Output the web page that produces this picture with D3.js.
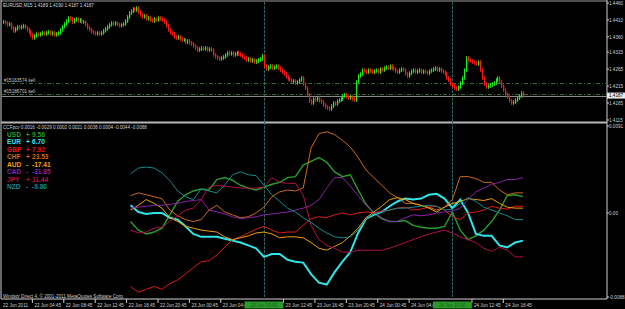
<!DOCTYPE html>
<html>
<head>
<meta charset="utf-8">
<script src="https://cdn.jsdelivr.net/npm/d3@7"></script>
<style>
  body { margin: 0; background: #000; }
  svg { display: block; }
  text { font-family: "Liberation Sans", Arial, sans-serif; }
</style>
</head>
<body>
<svg id="chart" width="625" height="309"></svg>
<script>
// EURUSD M15, first bar 22 Jun 2011 00:45, closes x 1e4
const firstBar = new Date(2011, 5, 22, 0, 45);
const closes = [
  14404,14401,14396,14398,14387,14378,14384,14390,14387,14390,
  14393,14387,14381,14375,14366,14357,14363,14369,14366,14369,
  14372,14369,14372,14375,14369,14372,14366,14369,14372,14381,
  14390,14398,14407,14416,14413,14404,14410,14413,14407,14410,14404,
  14404,14396,14387,14381,14375,14372,14369,14372,14369,14372,
  14378,14384,14390,14396,14401,14398,14401,14396,14393,14396,
  14398,14407,14419,14431,14436,14442,14439,14445,14433,14425,
  14419,14422,14413,14416,14410,14407,14413,14410,14416,14413,
  14410,14404,14393,14381,14372,14369,14360,14357,14360,14354,14351,
  14351,14345,14348,14342,14339,14333,14327,14321,14324,14327,
  14324,14327,14321,14324,14321,14307,14301,14298,14295,14298,
  14301,14307,14313,14310,14313,14307,14310,14313,14310,14307,
  14301,14298,14292,14295,14289,14292,14286,14289,14292,14295,
  14304,14274,14265,14271,14274,14268,14271,14274,14268,14262,14256,
  14251,14242,14236,14233,14227,14230,14224,14227,14233,14239,
  14221,14209,14189,14171,14165,14177,14174,14180,14171,14168,
  14159,14153,14150,14147,14156,14165,14162,14171,14174,14177,
  14186,14189,14183,14180,14183,14177,14174,14227,14245,14251,
  14262,14259,14256,14262,14259,14256,14259,14262,14256,14265,14262,
  14268,14271,14268,14274,14268,14265,14259,14256,14262,14265,
  14262,14251,14245,14253,14259,14262,14256,14259,14262,14256,
  14259,14256,14253,14259,14262,14265,14268,14262,14265,14259,
  14256,14251,14239,14233,14221,14215,14209,14206,14212,14224,
  14239,14262,14298,14292,14289,14286,14283,14280,14286,14262,14239,
  14221,14212,14215,14218,14221,14224,14233,14239,14227,14215,
  14203,14191,14183,14171,14165,14168,14174,14180,14186,14194,
  14187
];
const bid = 1.4187;
const quoteText = "EURUSD,M15  1.4189  1.4190  1.4187  1.4187";
const orderIds = ["#15163574 sell", "#15186701 sell"];
const orderPrices = [1.4224, 1.4193];
const priceTicks = ["1.4460", "1.4410", "1.4360", "1.4315", "1.4265", "1.4215", "1.4165", "1.4115"];
const separators = ["2011-06-23 10:00", "2011-06-24 10:00"];
const timeLabels = ["2011-06-22 04:45", "2011-06-22 08:45", "2011-06-22 12:45", "2011-06-22 16:45",
  "2011-06-22 20:45", "2011-06-23 00:45", "2011-06-23 04:45", "2011-06-23 12:45", "2011-06-23 16:45",
  "2011-06-23 20:45", "2011-06-24 00:45", "2011-06-24 04:45", "2011-06-24 12:45", "2011-06-24 16:45"];

// CCFpcv indicator, x 1e-4, one point every 4 bars from bar 65
const indStart = 65, indStep = 4;
const currencies = ["USD", "EUR", "GBP", "CHF", "AUD", "CAD", "JPY", "NZD"];
const strength = [9.58, 6.70, 7.92, 23.53, -17.41, -31.85, 11.44, -9.86];
const headerVals = ["0.0016", "-0.0029", "0.0002", "0.0021", "0.0036", "0.0004", "-0.0044", "-0.0088"];
const colors = ["#2a9e2a", "#30e4ea", "#e01818", "#cc6a1c", "#f0a000", "#8a22a8", "#b0104a", "#178a8a"];
const usd = [-9,-18,-22,-20,-16,-2,12,19,23,25,24,35,37,34,29,26,24,27,30,32,37,38,50,54,58,53,43,38,40,24,9,0,-6,-9,-9,-8,-13,-15,-16,-16,-14,1,-18,-28,-24,-18,-9,3,18,19,17];
const eur = [8,1,-1,0,0,-5,-7,-14,-22,-25,-25,-25,-27,-29,-31,-34,-37,-46,-43,-43,-49,-51,-52,-64,-73,-75,-62,-51,-41,-21,-6,-2,1,7,12,15,14,15,19,20,15,5,14,0,-22,-24,-24,-34,-36,-31,-29];
const gbp = [-77,-83,-80,-77,-80,-74,-70,-64,-57,-51,-50,-44,-36,-28,-25,-21,-17,-14,-18,-21,-20,-20,-13,-6,-4,-5,-2,0,-2,0,1,0,2,3,5,6,3,4,6,7,3,-4,-7,0,1,3,7,5,4,7,7];
const chf = [18,21,19,17,15,3,-3,-7,-9,-7,3,8,1,-2,-5,-4,0,6,17,22,24,23,26,68,83,85,82,76,69,58,45,37,29,21,16,10,10,8,6,3,6,14,38,38,36,32,32,24,19,21,21];
const aud = [3,8,14,10,5,-5,-9,-14,-16,-18,-19,-20,-25,-28,-26,-24,-21,-20,-22,-26,-25,-25,-26,-31,-37,-39,-35,-31,-24,-16,-5,1,7,14,16,14,10,8,5,1,6,10,12,15,14,13,15,10,6,5,5];
const cad = [5,6,7,8,8,9,10,12,13,14,3,1,-1,-4,-6,-5,-4,-2,-1,0,1,3,5,8,14,26,37,37,28,18,8,1,-5,-9,-9,-5,-2,-3,-2,0,1,2,5,14,22,26,30,32,35,35,37];
const jpy = [-18,-21,-20,-16,-15,-9,-3,3,5,14,27,29,28,27,26,26,26,27,37,32,31,31,19,-13,-28,-34,-37,-41,-41,-39,-39,-39,-39,-37,-34,-31,-28,-25,-22,-20,-18,-21,-25,-28,-31,-37,-40,-36,-39,-46,-46];
const nzd = [41,47,48,47,42,34,23,17,14,25,23,21,29,40,43,40,39,29,19,12,5,1,-5,-10,-16,-21,-25,-26,-25,-18,-6,-1,1,3,5,5,6,7,8,7,3,4,10,16,12,6,3,0,-3,-7,-7];
const series = [usd, eur, gbp, chf, aud, cad, jpy, nzd];
const indTicks = [91, 0, -88];
const indTickText = ["0.0091", "0.00", "-0.0088"];
const copyright = "Windsor Direct 4, \u00a9 2001-2011 MetaQuotes Software Corp.";

const svg = d3.select("#chart");
const W = 625, H = 309;
const right = 607, bottom = 299, sep = 122.5;
svg.append("rect").attr("width", W).attr("height", H).attr("fill", "#000");

const parse = d3.timeParse("%Y-%m-%d %H:%M");
const barOf = d => (d - firstBar) / 900000;
const fmt = d3.timeFormat("%d %b %H:%M");

const x = d3.scaleLinear().domain([0, closes.length - 1]).range([3, 523]);
const yP = d3.scaleLinear().domain([1.4115, 1.4460]).range([120, 3]);
const yI = d3.scaleLinear().domain([-88, 91]).range([297, 126]);

// frame
const frame = svg.append("g");
frame.append("line").attr("x1", 1).attr("x2", right).attr("y1", 1).attr("y2", 1).attr("stroke", "#9a9a9a");
frame.append("line").attr("x1", 1).attr("x2", 1).attr("y1", 0).attr("y2", bottom).attr("stroke", "#d0d0d0");
frame.append("line").attr("x1", right).attr("x2", right).attr("y1", 0).attr("y2", bottom).attr("stroke", "#d0d0d0");
frame.append("line").attr("x1", 1).attr("x2", right).attr("y1", bottom).attr("y2", bottom).attr("stroke", "#d0d0d0");
frame.append("line").attr("x1", 1).attr("x2", right).attr("y1", sep).attr("y2", sep).attr("stroke", "#b8b8b8").attr("stroke-width", 2);

// period separators
separators.forEach(s => {
  const sx = Math.round(x(barOf(parse(s)))) + 0.5;
  svg.append("line").attr("x1", sx).attr("x2", sx).attr("y1", 2).attr("y2", bottom)
    .attr("stroke", "#2a6868").attr("stroke-dasharray", "3,1");
});

// order lines and bid line
orderPrices.forEach((p, i) => {
  const yy = Math.round(yP(p)) + 0.5;
  svg.append("line").attr("x1", 2).attr("x2", right).attr("y1", yy).attr("y2", yy)
    .attr("stroke", "#2f6e3a").attr("stroke-dasharray", "4,2,1,2");
  svg.append("text").attr("x", 4).attr("y", yy - 1.5).attr("font-size", 4.6).attr("fill", "#c8c8c8").text(orderIds[i]);
});
svg.append("line").attr("x1", 2).attr("x2", right).attr("y1", Math.round(yP(bid)) + 0.5).attr("y2", Math.round(yP(bid)) + 0.5)
  .attr("stroke", "#8a8a8a");

// candles: body from previous close, thin wick past both ends
const candles = svg.append("g");
closes.forEach((c, i) => {
  const o = i > 0 ? closes[i - 1] : c;
  const hi = Math.max(o, c) / 1e4, lo = Math.min(o, c) / 1e4;
  const col = c >= o ? "#22ee22" : "#ff1a1a";
  const cx = Math.round(x(i));
  candles.append("line")
    .attr("x1", cx + 0.5).attr("x2", cx + 0.5)
    .attr("y1", yP(hi) - 2).attr("y2", yP(lo) + 2)
    .attr("stroke", col).attr("stroke-width", 0.8);
  candles.append("rect")
    .attr("x", cx).attr("width", 1.3)
    .attr("y", yP(hi) - 0.6).attr("height", Math.max(1.6, yP(lo) - yP(hi) + 1.2))
    .attr("fill", col);
});

svg.append("text").attr("x", 3).attr("y", 7).attr("font-size", 4.6).attr("fill", "#d8d8d8").text(quoteText);

// price axis
priceTicks.forEach(t => {
  const yy = yP(+t);
  svg.append("line").attr("x1", right).attr("x2", right + 2).attr("y1", yy).attr("y2", yy).attr("stroke", "#d0d0d0");
  svg.append("text").attr("x", 609).attr("y", yy + 1.6).attr("font-size", 4.6).attr("fill", "#d0d0d0").text(t);
});
const by = yP(bid);
svg.append("rect").attr("x", right).attr("y", by - 3).attr("width", 18).attr("height", 6).attr("fill", "#e8e8e8");
svg.append("text").attr("x", 609).attr("y", by + 1.6).attr("font-size", 4.6).attr("fill", "#000").text(d3.format(".4f")(bid));

// indicator pane
const line = d3.line().x((d, i) => x(indStart + i * indStep)).y(d => yI(d));
series.forEach((s, k) => {
  svg.append("path").datum(s).attr("d", line).attr("fill", "none")
    .attr("stroke", colors[k]).attr("stroke-width", k === 1 ? 2 : (k === 0 ? 1.4 : 1));
});
indTicks.forEach((t, i) => {
  const yy = yI(t);
  svg.append("line").attr("x1", right).attr("x2", right + 2).attr("y1", yy).attr("y2", yy).attr("stroke", "#d0d0d0");
  svg.append("text").attr("x", 609).attr("y", yy + 1.6).attr("font-size", 4.6).attr("fill", "#d0d0d0").text(indTickText[i]);
});
svg.append("text").attr("x", 3).attr("y", 129).attr("font-size", 4.6).attr("fill", "#d0d0d0")
  .text("CCFpcv  " + headerVals.join("  "));
currencies.forEach((c, i) => {
  const yy = 136.5 + i * 7.5;
  const g = svg.append("g").attr("fill", colors[i]).attr("font-size", 6.6).attr("font-weight", "bold");
  g.append("text").attr("x", 7).attr("y", yy).text(c);
  g.append("text").attr("x", 26).attr("y", yy).text(strength[i] >= 0 ? "+" : "-");
  g.append("text").attr("x", 32).attr("y", yy).text((strength[i] >= 0 ? "" : "-") + Math.abs(strength[i]).toFixed(2));
});
svg.append("text").attr("x", 3).attr("y", 297.5).attr("font-size", 4.6).attr("fill", "#d0d0d0").text(copyright);

// time axis
const tx = svg.append("g").attr("font-size", 4.6).attr("fill", "#d0d0d0");
tx.append("text").attr("x", 3).attr("y", 306.5).text("22 Jun 2011");
timeLabels.forEach(t => {
  const bx = x(barOf(parse(t)));
  tx.append("line").attr("x1", bx - 2).attr("x2", bx - 2).attr("y1", bottom).attr("y2", bottom + 4).attr("stroke", "#d0d0d0");
  tx.append("text").attr("x", bx).attr("y", 306.5).text(fmt(parse(t)));
});
separators.forEach(s => {
  const sx = x(barOf(parse(s)));
  tx.append("rect").attr("x", sx - 19.5).attr("y", 301.5).attr("width", 39).attr("height", 7).attr("fill", "#2a9a2a");
  tx.append("text").attr("x", sx).attr("y", 306.5).attr("text-anchor", "middle").attr("fill", "#1a5a1a").text(fmt(parse(s)));
});
</script>
</body>
</html>
